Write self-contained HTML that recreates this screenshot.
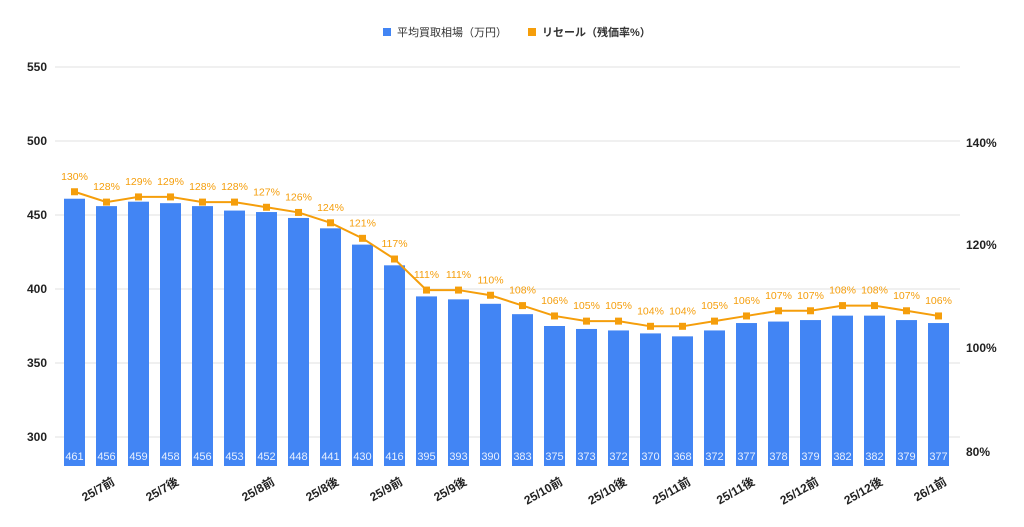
<!DOCTYPE html>
<html><head><meta charset="utf-8"><style>
html,body{margin:0;padding:0;background:#fff;}
svg{display:block;font-family:"Liberation Sans","Noto Sans CJK JP",sans-serif;}
</style></head><body>
<svg width="1024" height="527" viewBox="0 0 1024 527" xmlns="http://www.w3.org/2000/svg">
<g stroke="#e0e0e0" stroke-width="1">
<line x1="55" y1="67" x2="960" y2="67"/><line x1="55" y1="141" x2="960" y2="141"/>
<line x1="55" y1="215" x2="960" y2="215"/><line x1="55" y1="289" x2="960" y2="289"/>
<line x1="55" y1="363" x2="960" y2="363"/><line x1="55" y1="437" x2="960" y2="437"/>
</g>
<g font-size="12" fill="#222" text-anchor="end" font-weight="bold">
<text x="47" y="71">550</text><text x="47" y="145">500</text><text x="47" y="219">450</text>
<text x="47" y="293">400</text><text x="47" y="367">350</text><text x="47" y="441">300</text>
</g>
<g font-size="12" fill="#222" font-weight="bold">
<text x="966" y="147">140%</text><text x="966" y="249">120%</text>
<text x="966" y="352">100%</text><text x="966" y="456">80%</text>
</g>
<rect x="383" y="28" width="8" height="8" fill="#4285f4"/>
<text x="397" y="36" font-size="11" fill="#333">平均買取相場（万円）</text>
<rect x="528" y="28" width="8" height="8" fill="#f59e0b"/>
<text x="542" y="36" font-size="11" fill="#333" font-weight="bold">リセール（残価率%）</text>
<g id="bars"></g>
<g id="line"></g>
<g id="xl" font-size="12" fill="#222" font-weight="bold"></g>
<script>
var v=[461,456,459,458,456,453,452,448,441,430,416,395,393,390,383,375,373,372,370,368,372,377,378,379,382,382,379,377];
var p=[130,128,129,129,128,128,127,126,124,121,117,111,111,110,108,106,105,105,104,104,105,106,107,107,108,108,107,106];
var ns="http://www.w3.org/2000/svg";
function el(t,a,par,txt){var e=document.createElementNS(ns,t);for(var k in a)e.setAttribute(k,a[k]);if(txt)e.textContent=txt;document.getElementById(par).appendChild(e);return e;}
var pts=[];
for(var i=0;i<28;i++){
 var cx=74.5+i*32, y=437-(v[i]-300)*1.48;
 el('rect',{x:cx-10.5,y:y,width:21,height:466-y,fill:'#4285f4'},'bars');
 el('text',{x:cx,y:460,'font-size':11,fill:'#e8f0fe','text-anchor':'middle'},'bars',String(v[i]));
 var ly=348-(p[i]-100)*5.175-1; pts.push(cx+','+ly);
}
el('polyline',{points:pts.join(' '),fill:'none',stroke:'#f59e0b','stroke-width':2},'line');
for(var i=0;i<28;i++){
 var cx=74.5+i*32, ly=348-(p[i]-100)*5.175-1;
 el('rect',{x:cx-3.5,y:ly-3.5,width:7,height:7,fill:'#f59e0b'},'line');
 el('text',{x:cx,y:ly-12,'font-size':10.5,fill:'#f59e0b','text-anchor':'middle'},'line',p[i]+'%');
}
var L=[[1,'25/7前'],[3,'25/7後'],[6,'25/8前'],[8,'25/8後'],[10,'25/9前'],[12,'25/9後'],[15,'25/10前'],[17,'25/10後'],[19,'25/11前'],[21,'25/11後'],[23,'25/12前'],[25,'25/12後'],[27,'26/1前']];
L.forEach(function(l){var x=74.5+l[0]*32+9,y=484;
 el('text',{x:x,y:y,'text-anchor':'end',transform:'rotate(-30 '+x+' '+y+')'},'xl',l[1]);});
</script>
</svg>
</body></html>
